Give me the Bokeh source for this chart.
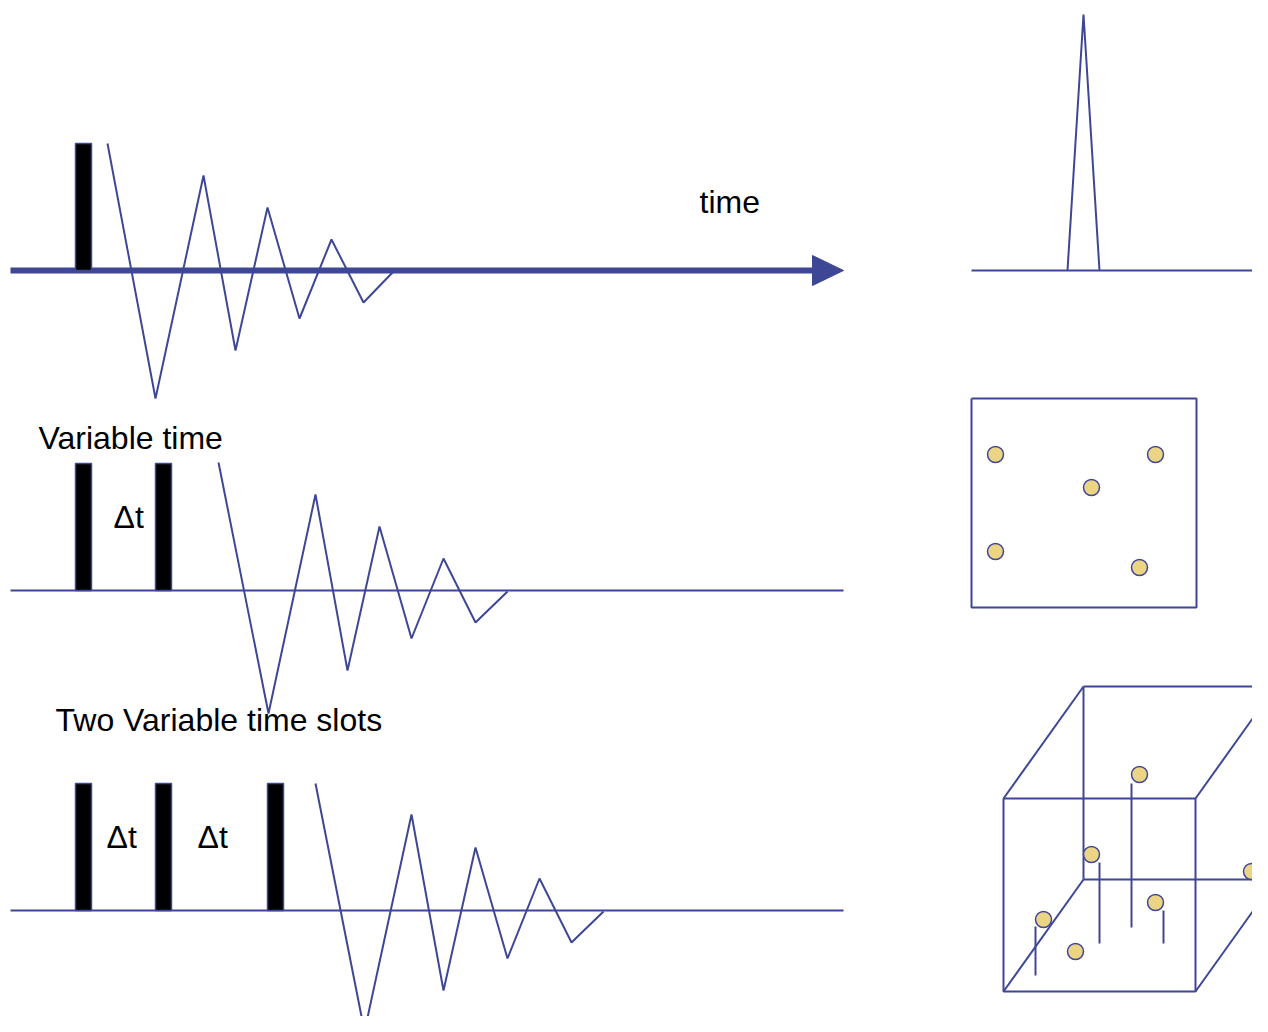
from bokeh.plotting import figure
from bokeh.models import Range1d
from bokeh.embed import file_html
from bokeh.resources import INLINE
from bokeh.core.properties import value

BLUE = "#3E4795"
GOLD = "#EBD584"
FONT = "Liberation Sans"

# --- top panel: single pulse + FID along a time arrow ---
axis_top_x = [10, 815]
axis_top_y = [270, 270]
arrow_x = [812, 843, 812]
arrow_y = [255, 270, 285]
fid_top_x = [107, 155, 203, 235, 267, 299, 331, 363, 393]
fid_top_y = [143, 398, 175, 350, 207, 318, 239, 302, 271]

# --- middle panel ---
base_mid_x = [10, 843]
base_mid_y = [590, 590]
fid_mid_x = [218, 268, 315, 347, 379, 411, 443, 475, 507]
fid_mid_y = [462, 713, 494, 670, 526, 638, 558, 622, 591]

# --- bottom panel ---
base_bot_x = [10, 843]
base_bot_y = [910, 910]
fid_bot_x = [315, 364, 411, 443, 475, 507, 539, 571, 603]
fid_bot_y = [783, 1031, 814, 990, 847, 958, 878, 942, 911]

# pulses (left edge, top, bottom)
pulse_left = [75, 75, 155, 75, 155, 267]
pulse_width = 16
pulse_top = [143, 463, 463, 783, 783, 783]
pulse_bottom = [270, 590, 590, 910, 910, 910]

# labels
label_text = ["time", "Variable time", "Two Variable time slots", "\u0394t", "\u0394t", "\u0394t"]
label_x = [699, 38, 55, 113, 106, 197]
label_y = [201, 437, 719, 516, 836, 836]

# --- right column: 1D spectrum ---
spec_base_x = [971, 1259]
spec_base_y = [270, 270]
spec_peak_x = [1067, 1083, 1099]
spec_peak_y = [270, 14, 270]

# --- 2D square with peaks ---
sq_left, sq_right, sq_top, sq_bottom = 971, 1196, 398, 607
sq_pts_x = [995, 1155, 1091, 995, 1139]
sq_pts_y = [454, 454, 487, 551, 567]

# --- 3D cube with peaks ---
cube_xs = [
    [1003, 1195, 1195, 1003, 1003],   # front face
    [1083, 1275],                     # back top
    [1083, 1275],                     # back bottom
    [1083, 1083],                     # back left
    [1003, 1083],                     # top-left edge
    [1195, 1275],                     # top-right edge
    [1003, 1083],                     # bottom-left edge
    [1195, 1275],                     # bottom-right edge
]
cube_ys = [
    [798, 798, 991, 991, 798],
    [686, 686],
    [879, 879],
    [686, 879],
    [798, 686],
    [798, 686],
    [991, 879],
    [991, 879],
]
stem_x = [1131, 1099, 1163, 1035]
stem_top = [783, 862, 910, 926]
stem_bottom = [927, 943, 943, 975]
cube_pts_x = [1139, 1091, 1251, 1155, 1043, 1075]
cube_pts_y = [774, 854, 871, 902, 919, 951]

p = figure(width=1252, height=1016,
           x_range=Range1d(0, 1252), y_range=Range1d(1016, 0),
           output_backend="svg", toolbar_location=None,
           x_axis_location=None, y_axis_location=None,
           min_border=0, background_fill_color="white",
           border_fill_color="white")
p.grid.visible = False
p.outline_line_color = None

# baselines
p.line(axis_top_x, axis_top_y, line_color=BLUE, line_width=6)
p.patch(arrow_x, arrow_y, fill_color=BLUE, line_color=BLUE, line_width=1)
p.line(base_mid_x, base_mid_y, line_color=BLUE, line_width=2)
p.line(base_bot_x, base_bot_y, line_color=BLUE, line_width=2)

# pulses
p.quad(left=pulse_left, right=[l + pulse_width for l in pulse_left],
       top=pulse_top, bottom=pulse_bottom,
       fill_color="black", line_color=BLUE, line_width=1.5)

# FIDs
for xs, ys in [(fid_top_x, fid_top_y), (fid_mid_x, fid_mid_y), (fid_bot_x, fid_bot_y)]:
    p.line(xs, ys, line_color=BLUE, line_width=2)

# labels
p.text(x=label_x, y=label_y, text=label_text,
       text_font=value(FONT), text_font_size="32px", text_color="black",
       text_baseline="alphabetic", text_align="left")

# spectrum
p.line(spec_base_x, spec_base_y, line_color=BLUE, line_width=2)
p.line(spec_peak_x, spec_peak_y, line_color=BLUE, line_width=2)

# square
p.line([sq_left, sq_right, sq_right, sq_left, sq_left],
       [sq_top, sq_top, sq_bottom, sq_bottom, sq_top], line_color=BLUE, line_width=2)
p.scatter(sq_pts_x, sq_pts_y, size=16, fill_color=GOLD, line_color=BLUE, line_width=1.5)

# cube
p.multi_line(cube_xs, cube_ys, line_color=BLUE, line_width=2)
p.segment(x0=stem_x, y0=stem_top, x1=stem_x, y1=stem_bottom, line_color=BLUE, line_width=2)
p.scatter(cube_pts_x, cube_pts_y, size=16, fill_color=GOLD, line_color=BLUE, line_width=1.5)

open("out.html", "w").write(file_html(p, INLINE))
